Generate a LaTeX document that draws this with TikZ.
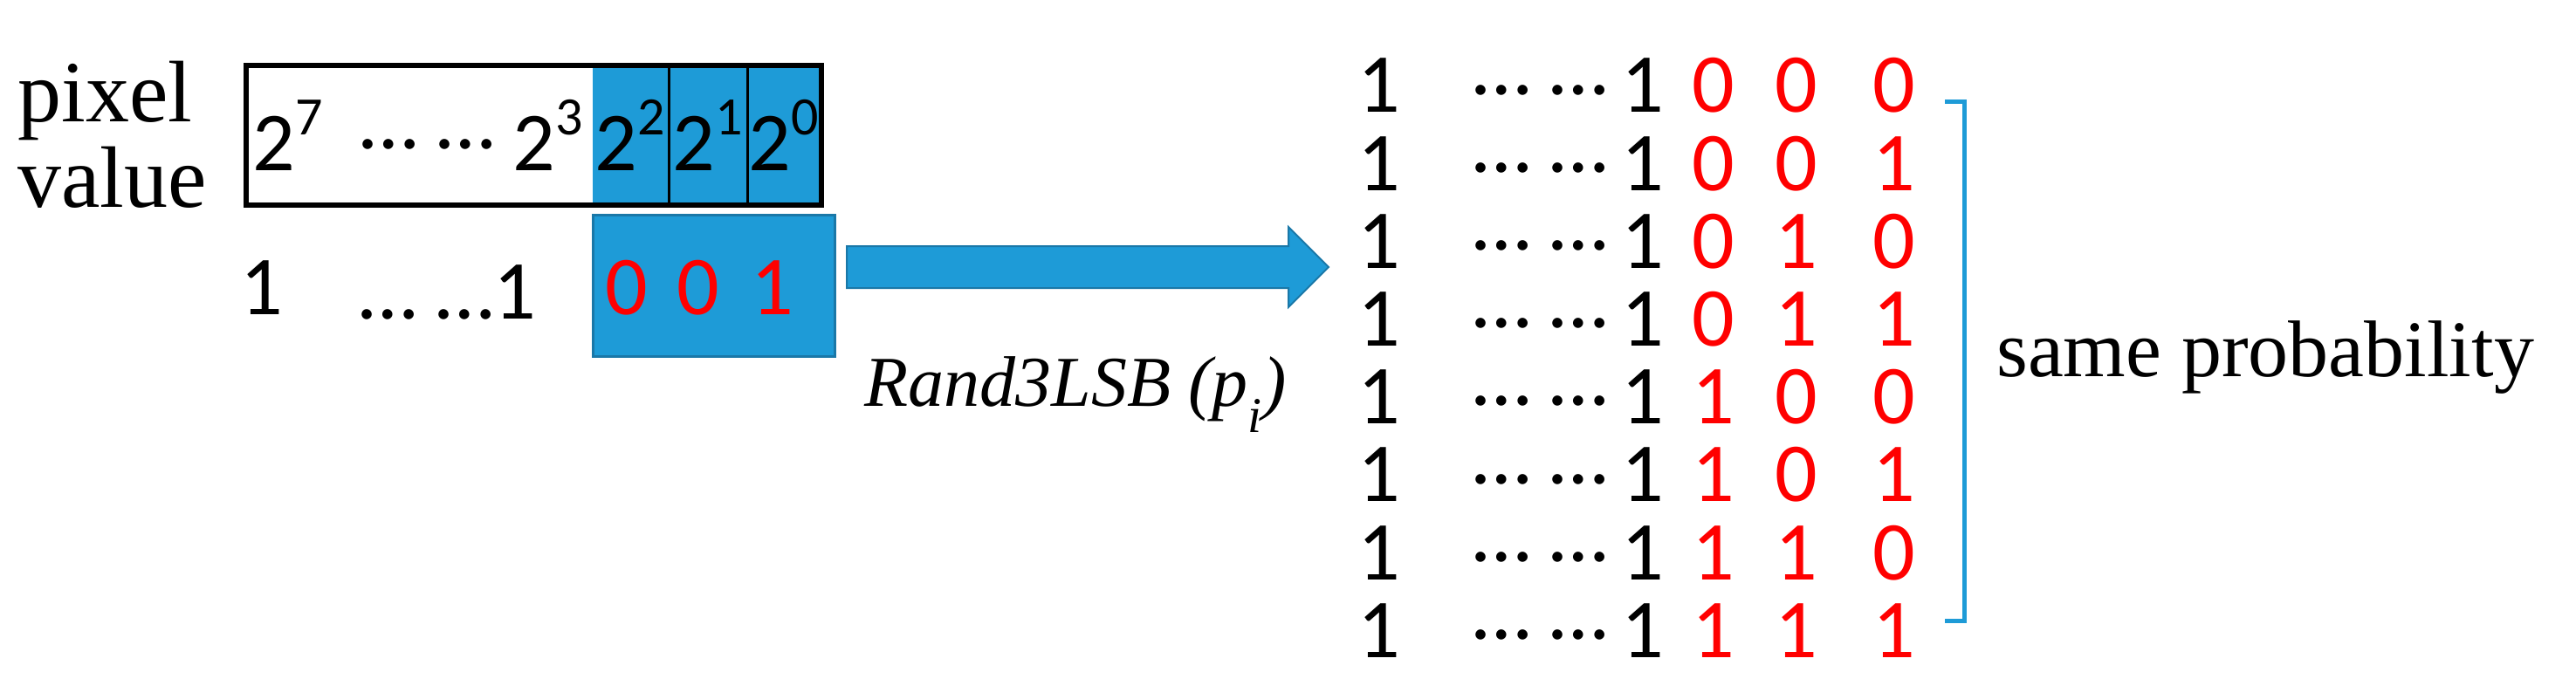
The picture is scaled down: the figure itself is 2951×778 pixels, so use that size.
\documentclass[tikz,border=0pt]{standalone}
\usepackage{fontspec}
\setmainfont{Liberation Serif}
\newfontfamily\calfnt{Carlito}
\usetikzlibrary{shapes.arrows}
\definecolor{bl}{HTML}{1E9BD7}
\definecolor{bld}{HTML}{1A78A8}
\newcommand{\pw}[1]{2\raisebox{0.42em}{\fontsize{62}{62}\selectfont #1}}
\begin{document}
\begin{tikzpicture}[x=1pt,y=-1pt,
  dg/.style={font=\calfnt\fontsize{96}{96}\selectfont,inner sep=0,anchor=center},
  rd/.style={dg,text=red},
  sr/.style={font=\fontsize{100}{100}\selectfont,inner sep=0,anchor=base west}]
\useasboundingbox (0,0) rectangle (2951,778);
% top box
\fill[bl] (679,75) rectangle (941,235);
\draw[line width=6pt] (282,75) rectangle (941,235);
\draw[line width=3pt] (766,75) -- (766,235) (856,75) -- (856,235);
\node[dg] (b7) at (330,155) {\pw{7}};
\node[dg] (bd) at (490,165) {\dots\ \dots};
\node[dg] (b3) at (628,155) {\pw{3}};
\node[dg] (b2) at (722,155) {\pw{2}};
\node[dg] (b1) at (811,155) {\pw{1}};
\node[dg] (b0) at (898,155) {\pw{0}};
\node[sr] (px) at (20,140) {pixel};
\node[sr] (pv) at (20,238) {value};
% bottom
\node[draw=bld,line width=3pt,fill=bl,minimum width=277pt,minimum height=161pt,inner sep=0] (lsb) at (817.5,327.5) {};
\node[dg] (l1) at (300,330) {1};
\node[dg] (ld) at (513,335) {\dots\ \dots1};
\node[rd] (r1) at (718,330) {0};
\node[rd] (r2) at (800,330) {0};
\node[rd] (r3) at (885,330) {1};
% arrow
\node[single arrow,fill=bl,draw=bld,line width=2pt,minimum height=552pt,minimum width=0pt,single arrow head extend=22pt,inner sep=23pt,anchor=west] (ar) at (969,306) {};
\node[font=\itshape\fontsize{82}{82}\selectfont,inner sep=0] (lab) at (1232,452) {Rand3LSB (\textit{p\textsubscript{i}})};
% list
\foreach \a/\b/\c [count=\i from 0] in {0/0/0,0/0/1,0/1/0,0/1/1,1/0/0,1/0/1,1/1/0,1/1/1}{
  \pgfmathsetmacro\yy{98+89.2*\i}
  \node[dg] (a\i) at (1580,\yy) {1};
  \node[dg] (d\i) at (1765,\yy+5) {\dots\ \dots};
  \node[dg] (e\i) at (1882,\yy) {1};
  \node[rd] (x\i) at (1963,\yy) {\a};
  \node[rd] (y\i) at (2058,\yy) {\b};
  \node[rd] (z\i) at (2170,\yy) {\c};
}
\coordinate (bt) at (2228,117);
\coordinate (bb) at (2228,711);
\draw[bl,line width=5pt] (bt) -- ++(22,0) -- ++(0,594) -- (bb);
\node[font=\fontsize{92}{92}\selectfont,inner sep=0,anchor=west] (sp) at (2287,410) {same probability};
\end{tikzpicture}
\end{document}
